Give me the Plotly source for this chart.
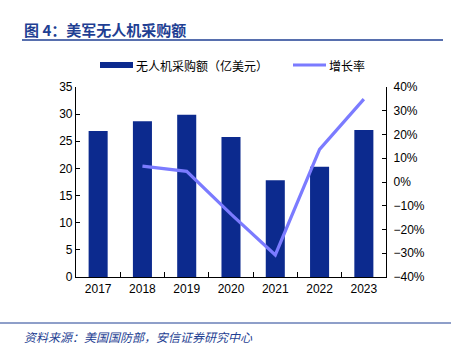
import plotly.graph_objects as go

years = ["2017", "2018", "2019", "2020", "2021", "2022", "2023"]
purchase = [26.9, 28.7, 29.9, 25.8, 17.8, 20.3, 27.1]
growth_years = ["2018", "2019", "2020", "2021", "2022", "2023"]
growth = [0.067, 0.045, -0.135, -0.307, 0.137, 0.349]

bar_name = "无人机采购额（亿美元）"
line_name = "增长率"
title_text = "图 4：美军无人机采购额"
source_text = "资料来源：美国国防部，安信证券研究中心"

BAR = "#0C2A8E"
LINE = "#7B7BFF"
BLUE = "#1F3F93"
FONT = "Liberation Sans, Arial, sans-serif"
CJK = "Noto Sans CJK SC"

fig = go.Figure()
fig.add_trace(go.Bar(x=years, y=purchase, name=bar_name, marker=dict(color=BAR, line=dict(width=0)),
                     showlegend=False, yaxis="y"))
fig.add_trace(go.Scatter(x=growth_years, y=growth, name=line_name, mode="lines",
                         line=dict(color=LINE, width=3.2), showlegend=False, yaxis="y2"))

W, H = 451, 353
L, R, T, B = 76, 65, 87, 76


def pl_x(x):
    return (x - L) / (W - L - R)


def pl_y(y):
    return (H - B - y) / (H - T - B)


shapes = []
shapes.append(dict(type="line", xref="paper", yref="paper", x0=pl_x(22), x1=pl_x(443), y0=pl_y(40), y1=pl_y(40),
                   line=dict(color=BLUE, width=1.5)))
shapes.append(dict(type="line", xref="paper", yref="paper", x0=pl_x(0), x1=pl_x(451), y0=pl_y(323), y1=pl_y(323),
                   line=dict(color=BLUE, width=1)))
shapes.append(dict(type="rect", xref="paper", yref="paper", x0=pl_x(100), x1=pl_x(133), y0=pl_y(68), y1=pl_y(62),
                   fillcolor=BAR, line=dict(width=0)))
shapes.append(dict(type="line", xref="paper", yref="paper", x0=pl_x(293), x1=pl_x(326), y0=pl_y(65), y1=pl_y(65),
                   line=dict(color=LINE, width=3)))

annotations = [
    dict(text="<b>" + title_text + "</b>", xref="paper", yref="paper", x=pl_x(22), y=pl_y(30), xanchor="left",
         yanchor="middle", showarrow=False, font=dict(family=CJK, size=15, color=BLUE)),
    dict(text="<i>" + source_text + "</i>", xref="paper", yref="paper", x=pl_x(22), y=pl_y(336), xanchor="left",
         yanchor="middle", showarrow=False, font=dict(family=CJK, size=12, color=BLUE)),
    dict(text=bar_name, xref="paper", yref="paper", x=pl_x(134), y=pl_y(65), xanchor="left",
         yanchor="middle", showarrow=False, font=dict(family=CJK, size=12, color="#000000")),
    dict(text=line_name, xref="paper", yref="paper", x=pl_x(327), y=pl_y(65), xanchor="left",
         yanchor="middle", showarrow=False, font=dict(family=CJK, size=12, color="#000000")),
]

fig.update_layout(
    width=W, height=H,
    margin=dict(l=L, r=R, t=T, b=B),
    paper_bgcolor="white", plot_bgcolor="white",
    bargap=0.57,
    font=dict(family=FONT, size=12, color="#000000"),
    xaxis=dict(type="category", showline=True, linecolor="#000000", linewidth=1.2, ticks="inside",
               tickson="boundaries", ticklen=5, tickcolor="#000000", showgrid=False, tickfont=dict(size=12),
               range=[-0.5, 6.5]),
    yaxis=dict(range=[0, 35], dtick=5, showline=True, linecolor="#000000", linewidth=1.2, ticks="inside",
               ticklen=4, tickcolor="#000000", showgrid=False, zeroline=False, tickfont=dict(size=12)),
    yaxis2=dict(range=[-0.4, 0.4], dtick=0.1, tickformat=".0%", overlaying="y", side="right", showline=True,
                linecolor="#000000", linewidth=1.2, ticks="inside", ticklen=4, tickcolor="#000000",
                showgrid=False, zeroline=False, tickfont=dict(size=12), ticklabelstandoff=4),
    shapes=shapes,
    annotations=annotations,
    showlegend=False,
)

fig.write_html("out.html")
